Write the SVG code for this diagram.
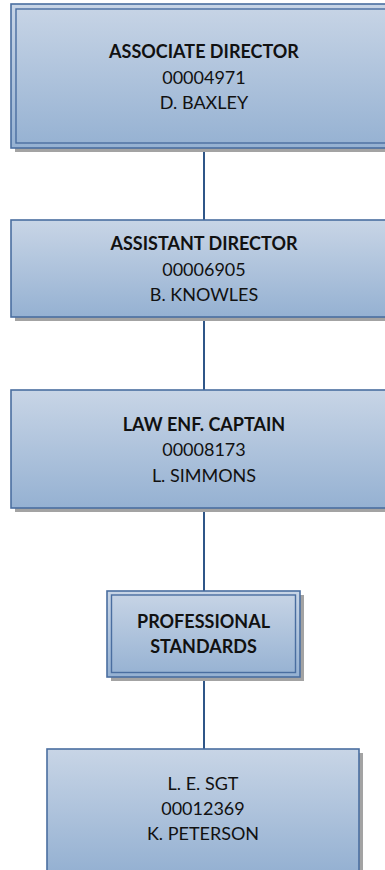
<svg xmlns="http://www.w3.org/2000/svg" width="385" height="870" viewBox="0 0 385 870">
<defs>
<linearGradient id="fillg" x1="0" y1="0" x2="0" y2="1">
<stop offset="0" stop-color="#c8d5e6"/>
<stop offset="1" stop-color="#95b1d2"/>
</linearGradient>
<style>
.shadow{fill:#a3a3a3;}
.box{fill:url(#fillg);stroke:#4a6ea0;stroke-width:1.6;}
.inner{fill:none;stroke:#4a6ea0;stroke-width:1.4;}
.conn{stroke:#2f5688;stroke-width:2;fill:none;}
text{font-family:Lato,"Open Sans","Liberation Sans",sans-serif;font-size:18px;fill:#111;text-anchor:middle;}
.b{font-weight:bold;}
</style>
</defs>
<rect width="385" height="870" fill="#ffffff"/>
<g id="connectors">
<line class="conn" x1="204" y1="148" x2="204" y2="220"/>
<line class="conn" x1="204" y1="317" x2="204" y2="390"/>
<line class="conn" x1="204" y1="508" x2="204" y2="591"/>
<line class="conn" x1="204" y1="677" x2="204" y2="749"/>
</g>
<g id="node-associate-director">
<rect class="shadow" x="15" y="8" width="386" height="144"/>
<rect class="box" x="11" y="4" width="386" height="144"/>
<rect class="inner" x="16" y="9" width="376" height="134"/>
<text class="b" x="204" y="58">ASSOCIATE DIRECTOR</text>
<text x="204" y="84">00004971</text>
<text x="204" y="109">D. BAXLEY</text>
</g>
<g id="node-assistant-director">
<rect class="shadow" x="15" y="224" width="386" height="97"/>
<rect class="box" x="11" y="220" width="386" height="97"/>
<text class="b" x="204" y="250">ASSISTANT DIRECTOR</text>
<text x="204" y="275.5">00006905</text>
<text x="204" y="301">B. KNOWLES</text>
</g>
<g id="node-law-enf-captain">
<rect class="shadow" x="15" y="394" width="386" height="118"/>
<rect class="box" x="11" y="390" width="386" height="118"/>
<text class="b" x="204" y="431">LAW ENF. CAPTAIN</text>
<text x="204" y="456">00008173</text>
<text x="204" y="481.5">L. SIMMONS</text>
</g>
<g id="node-professional-standards">
<rect class="shadow" x="111" y="595" width="193" height="86"/>
<rect class="box" x="107" y="591" width="193" height="86"/>
<rect class="inner" x="111.5" y="595" width="184" height="77.5"/>
<text class="b" x="203.5" y="628">PROFESSIONAL</text>
<text class="b" x="203.5" y="652.5">STANDARDS</text>
</g>
<g id="node-le-sgt">
<rect class="shadow" x="51" y="753" width="312" height="122"/>
<rect class="box" x="47" y="749" width="312" height="122"/>
<text x="203" y="790">L. E. SGT</text>
<text x="203" y="815">00012369</text>
<text x="203" y="840">K. PETERSON</text>
</g>
</svg>
